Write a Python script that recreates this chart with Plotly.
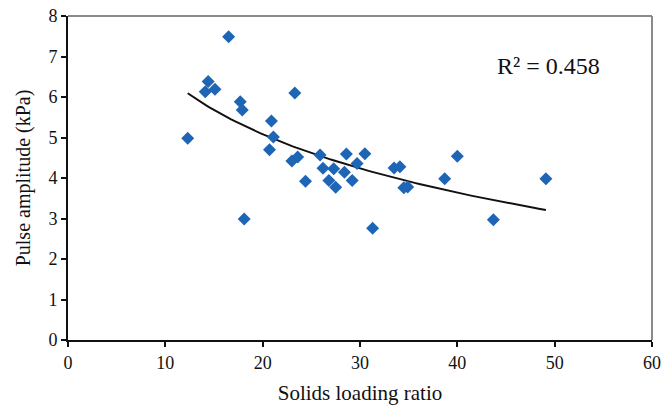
import numpy as np
import plotly.graph_objects as go

solids_loading_ratio = [12.3, 14.1, 14.4, 15.1, 16.5, 17.7, 17.9, 18.1, 20.7, 20.9,
                        21.1, 23.0, 23.3, 23.6, 24.4, 25.9, 26.2, 26.8, 27.3, 27.5,
                        28.4, 28.6, 29.2, 29.7, 30.5, 31.3, 33.5, 34.1, 34.5, 34.9,
                        38.7, 40.0, 43.7, 49.1]
pulse_amplitude = [4.98, 6.13, 6.38, 6.19, 7.49, 5.88, 5.68, 2.99, 4.70, 5.41,
                   5.01, 4.42, 6.10, 4.52, 3.92, 4.57, 4.24, 3.94, 4.23, 3.77,
                   4.14, 4.59, 3.94, 4.36, 4.60, 2.76, 4.25, 4.28, 3.76, 3.78,
                   3.98, 4.54, 2.97, 3.98]
x_ticks = [0, 10, 20, 30, 40, 50, 60]
y_ticks = [0, 1, 2, 3, 4, 5, 6, 7, 8]
r2_label = "R² = 0.458"

x = np.array(solids_loading_ratio)
y = np.array(pulse_amplitude)
# logarithmic trendline fitted to the data
b, a = np.polyfit(np.log(x), y, 1)
xf = np.linspace(x.min(), x.max(), 100)
yf = a + b * np.log(xf)

font = "Liberation Serif, Times New Roman, serif"

fig = go.Figure()
fig.add_trace(go.Scatter(x=xf, y=yf, mode="lines",
                         line=dict(color="#111111", width=2), hoverinfo="skip"))
fig.add_trace(go.Scatter(x=solids_loading_ratio, y=pulse_amplitude, mode="markers",
                         marker=dict(symbol="diamond", size=10, color="#1f65b5")))

fig.add_annotation(x=0.822, y=0.845, xref="paper", yref="paper", text=r2_label,
                   xanchor="center", yanchor="middle",
                   showarrow=False, font=dict(family=font, size=24, color="#111111"))

fig.add_shape(type="line", xref="paper", yref="paper", x0=0, x1=1, y0=1, y1=1,
              line=dict(color="#8a8a8a", width=2))
fig.add_shape(type="line", xref="paper", yref="paper", x0=1, x1=1, y0=0, y1=1,
              line=dict(color="#8a8a8a", width=2))

fig.update_layout(
    width=662, height=412,
    margin=dict(l=68, r=10, t=16, b=72, autoexpand=False),
    paper_bgcolor="white", plot_bgcolor="white",
    showlegend=False,
    font=dict(family=font, size=18, color="#111111"),
    xaxis=dict(range=[0, 60], tickvals=x_ticks, showgrid=False, zeroline=False,
               automargin=False,
               showline=True, linecolor="#111111", linewidth=2,
               ticks="outside", ticklen=5, tickwidth=2, tickcolor="#111111",
               title=dict(text="Solids loading ratio", font=dict(size=21), standoff=14)),
    yaxis=dict(range=[0, 8], tickvals=y_ticks, showgrid=False, zeroline=False,
               automargin=False,
               showline=True, linecolor="#111111", linewidth=2,
               ticks="outside", ticklen=5, tickwidth=2, tickcolor="#111111",
               title=dict(text="Pulse amplitude (kPa)", font=dict(size=20), standoff=12)),
)

fig.write_html("out.html")
